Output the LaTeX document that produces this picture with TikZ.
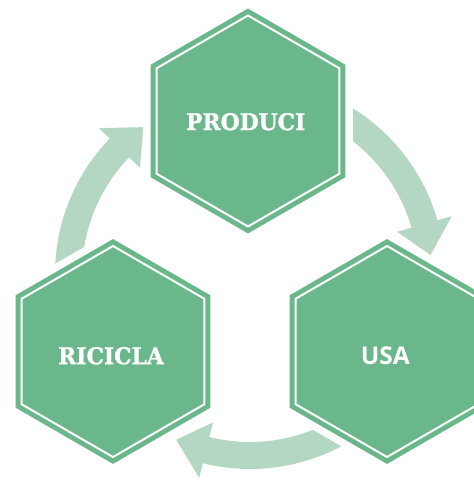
\documentclass[tikz,border=0pt]{standalone}
\usepackage{fontspec}
\usetikzlibrary{shapes.geometric}

\newfontfamily\slabfont{DejaVu Serif}[FakeStretch=0.95, BoldFeatures={FakeBold=1.2}]
\newfontfamily\plainsans{Open Sans}
\definecolor{hexgreen}{RGB}{106,183,140}
\definecolor{cyclegreen}{RGB}{179,215,194}

\tikzset{
  hexa/.style={regular polygon, regular polygon sides=6, shape border rotate=30,
    minimum size=211pt, inner sep=0pt,
    preaction={draw=white, line width=27pt},  % white gap over the arrow tails
    preaction={draw=hexgreen, line width=12pt}, % green rim
    fill=hexgreen, draw=white, line width=2pt},
  word/.style={text=white, font=\slabfont\bfseries\fontsize{23}{23}\selectfont}
}

\begin{document}
\begin{tikzpicture}[x=1pt,y=1pt]
        \useasboundingbox (0,0) rectangle (474,480);
        \clip (0,0) rectangle (474,480);

        % curved arrows of the cycle, all round the same hub
        \begin{scope}[shift={(250,206)}]
            \foreach \ang [evaluate=\ang as \tail using 62-\ang,
                           evaluate=\ang as \base using 16-\ang,
                           evaluate=\ang as \tip using 6-\ang] in {0,120,240}
                \fill[cyclegreen] (\tail:195) arc[start angle=\tail, end angle=\base, radius=195]
                    -- (\base:210) -- (\tip:181.5) -- (\base:153) -- (\base:168)
                    arc[start angle=\base, end angle=\tail, radius=168] -- cycle;
        \end{scope}

        % the three hexagons
        \node[hexa] (producihex) at (248,359) {};
        \node[hexa] (usahex) at (387,128.5) {};
        \node[hexa] (riciclahex) at (113,128.5) {};

        % labels
        \node[word] (produci) at ([shift={(-2.3,-0.7)}]producihex.center) {PRODUCI};
        \node[word] (ricicla) at ([shift={(-2,-4.3)}]riciclahex.center) {RICICLA};
        \node[word, font=\plainsans\bfseries\fontsize{24.5}{24.5}\selectfont] (usa)
            at ([shift={(-1.7,-4.5)}]usahex.center) {USA};

\end{tikzpicture}
\end{document}
